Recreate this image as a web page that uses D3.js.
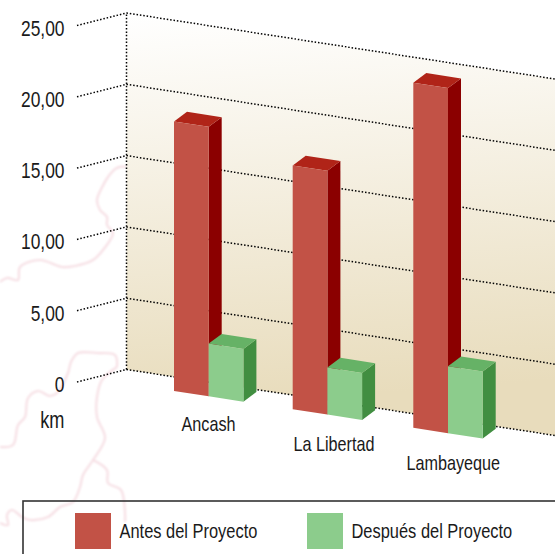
<!DOCTYPE html>
<html><head><meta charset="utf-8">
<script src="https://cdnjs.cloudflare.com/ajax/libs/d3/7.8.5/d3.min.js"></script>
<style>html,body{margin:0;padding:0;background:#fff}svg{display:block}
text{font-family:"Liberation Sans",sans-serif;fill:#1a1a1a}</style>
</head><body><svg id="c" width="555" height="554"></svg>
<script>
const categories = ["Ancash", "La Libertad", "Lambayeque"];
const seriesNames = ["Antes del Proyecto", "Después del Proyecto"];
const antes = [18.9, 17.1, 24.2];
const despues = [3.7, 3.3, 4.7];
const tickValues = [0, 5, 10, 15, 20, 25];
const tickLabels = ["0", "5,00", "10,00", "15,00", "20,00", "25,00"];
const unitLabel = "km";

const svg = d3.select("#c");
const W = 555;
const defs = svg.append("defs");
const wallX = 126.5, frontX = 77, slope = 0.154, sideRise = 12.5;
const y = d3.scaleLinear().domain([0, 25]).range([369.5, 13]);
const groupX = d3.scaleOrdinal().domain(categories).range([174, 292.7, 413.3]);
const labelPos = d3.scaleOrdinal().domain(categories).range([[208.5, 431], [334, 450.5], [453.3, 469.5]]);
const barW = 34.7, depthX = 13, depthY = -9.7;
const baseLine = x => 391 + slope * (x - 174);
const h = v => y(0) - y(v);
const narrow = 0.79;
function label(x, yy, size, anchor, s) {
  return svg.append("text").attr("transform", `translate(${x},${yy}) scale(${narrow},1)`)
    .attr("text-anchor", anchor).attr("font-size", size).text(s);
}

// faint map background
defs.append("filter").attr("id", "soft").append("feGaussianBlur").attr("stdDeviation", 0.8);
const map = svg.append("g").attr("fill", "none").attr("stroke", "#f6dfe4").attr("stroke-width", 2.2)
  .attr("stroke-linejoin", "round").attr("filter", "url(#soft)");
const mapLine = d3.line().curve(d3.curveCatmullRom);
[
 [[126.7,166.7],[116.7,168],[108,177],[101.7,188],[97,200],[100,210],[107,217],[107,225],[113,233],[103,250],[93,260],[75,266],[62,267],[40,260],[20,267],[18,280],[7,278],[0,282]],
 [[117,367],[115,355],[97,353],[78,353],[71,362],[68,373],[57,393],[50,396],[38,391],[28,398],[25,417],[18,425],[13,445],[0,447]],
 [[117,367],[102,380],[97,397],[97,417],[105,438],[93,460],[83,475],[80,487],[73,502],[60,507],[48,517],[30,520],[22,517],[12,510],[7,515],[8,525],[0,523]],
 [[93,460],[107,470],[108,483],[121,490],[125,513],[125,522]]
].forEach(p => map.append("path").attr("d", mapLine(p)));

// wall
const grad = defs.append("linearGradient").attr("id", "wall").attr("gradientUnits", "userSpaceOnUse")
  .attr("x1", 0).attr("y1", y(25) + 10).attr("x2", 30).attr("y2", y(0) + 50);
grad.append("stop").attr("offset", 0).attr("stop-color", "#ffffff");
grad.append("stop").attr("offset", 1).attr("stop-color", "#e8dcbc");
svg.append("path").attr("fill", "url(#wall)")
  .attr("d", d3.line()([[wallX, y(25)], [W, y(25) + slope * (W - wallX)], [W, y(0) + slope * (W - wallX)], [wallX, y(0)]]) + "Z");

// grid
const dots = s => s.attr("fill", "none").attr("stroke", "#000").attr("stroke-width", 1.5).attr("stroke-dasharray", "1.5,1.9");
tickValues.forEach(t => {
  dots(svg.append("path")).attr("d", d3.line()([[frontX, y(t) + sideRise], [wallX, y(t)], [W, y(t) + slope * (W - wallX)]]));
});
dots(svg.append("path")).attr("d", d3.line()([[wallX, y(0)], [wallX, y(25)]]));

// tick labels
tickValues.forEach((t, i) => label(64.5, y(t) + sideRise + 10, 22, "end", tickLabels[i]));
label(64.5, y(0) + sideRise + 45.5, 23, "end", unitLabel);

// bars
function bar(x, v, c) {
  const b0 = baseLine(x), b1 = baseLine(x + barW), t0 = b0 - h(v), t1 = b1 - h(v);
  const g = svg.append("g");
  g.append("path").attr("fill", c[2]).attr("d", d3.line()([[x + barW, t1], [x + barW + depthX, t1 + depthY], [x + barW + depthX, b1 + depthY], [x + barW, b1]]) + "Z");
  g.append("path").attr("fill", c[1]).attr("d", d3.line()([[x, t0], [x + depthX, t0 + depthY], [x + barW + depthX, t1 + depthY], [x + barW, t1]]) + "Z");
  g.append("path").attr("fill", c[0]).attr("d", d3.line()([[x, t0], [x + barW, t1], [x + barW, b1], [x, b0]]) + "Z");
}
const redC = ["#c25246", "#b02418", "#8b0000"], greenC = ["#8ccc8c", "#66b266", "#418e41"];
categories.forEach((c, i) => {
  const x = groupX(c);
  bar(x, antes[i], redC);
  bar(x + barW, despues[i], greenC);
  const p = labelPos(c);
  label(p[0], p[1], 20.5, "middle", c);
});

// legend
svg.append("rect").attr("x", 23).attr("y", 501).attr("width", 560).attr("height", 80)
  .attr("fill", "none").attr("stroke", "#333").attr("stroke-width", 1.6);
const legendX = d3.scalePoint().domain(seriesNames).range([75, 307]);
["#c25246", "#8ccc8c"].forEach((c, i) => {
  const n = seriesNames[i];
  svg.append("rect").attr("x", legendX(n)).attr("y", 513).attr("width", 36).attr("height", 36).attr("fill", c);
  label(legendX(n) + 44.5, 538, 20.8, "start", n);
});
</script></body></html>
